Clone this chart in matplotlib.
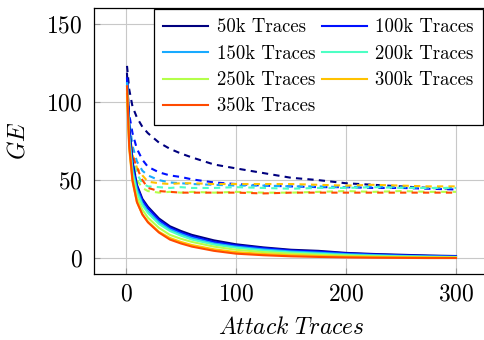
import numpy as np
import matplotlib
matplotlib.use("Agg")
import matplotlib.pyplot as plt

plt.rcParams['font.family'] = ['cmr10', 'DejaVu Serif']
plt.rcParams['mathtext.fontset'] = 'cm'
plt.rcParams['axes.formatter.use_mathtext'] = True

# attack traces axis
traces = [1, 3, 6, 10, 15, 20, 30, 40, 50, 60, 80, 100, 125, 150, 175, 200, 225, 250, 275, 300]

labels = ['50k Traces', '100k Traces', '150k Traces', '200k Traces',
          '250k Traces', '300k Traces', '350k Traces']
colors = ['#00007f', '#0010ff', '#18aaff', '#4dffc4', '#b4ff4a', '#ffc200', '#ff4a00']

# solid curves
ge_50k = [118, 85, 62, 47, 38, 33, 25.5, 20.5, 17.5, 15, 11.5, 9, 7, 5.5, 4.8, 3.5, 2.8, 2.3, 1.8, 1.5]
ge_100k = [115, 82, 60, 46, 37, 32, 24.5, 19.5, 16.5, 14, 10.5, 8.3, 6.5, 5, 4.3, 3.2, 2.5, 2, 1.6, 1.3]
ge_150k = [112, 78, 57, 44, 35, 30, 23, 18.5, 15.5, 13, 9.5, 7.5, 5.7, 4.4, 3.6, 2.7, 2.1, 1.6, 1.2, 1.0]
ge_200k = [110, 76, 55, 42, 34, 29, 22, 17.5, 14.5, 12, 8.8, 6.8, 5, 3.8, 3, 2.2, 1.7, 1.3, 1, 0.8]
ge_250k = [108, 73, 52, 39, 31, 26, 19.5, 15, 12.5, 10.5, 7.5, 5.5, 4, 3, 2.3, 1.7, 1.3, 1.0, 0.8, 0.6]
ge_300k = [105, 70, 49, 36, 28, 23.5, 17, 13, 10.5, 8.5, 5.8, 4, 2.8, 2, 1.5, 1.1, 0.9, 0.7, 0.5, 0.4]
ge_350k = [110, 72, 50, 36, 28, 23, 16.5, 12, 9.5, 7.5, 4.8, 3, 2, 1.3, 0.9, 0.6, 0.4, 0.3, 0.2, 0.2]

# dashed curves
base_50k = [123, 108, 97, 90, 84, 80, 74, 70, 67, 64.5, 60, 57.5, 54.5, 51.5, 50, 48, 47, 46, 45, 44.5]
base_100k = [112, 92, 80, 70, 63, 58.5, 55, 53, 52, 50.5, 48.5, 47.5, 46.5, 46, 45.5, 45.5, 45, 45, 44.5, 44]
base_150k = [115, 88, 72, 62, 56, 53, 50, 48.5, 48, 47.5, 47, 46.5, 46.5, 46, 46, 45.5, 46, 45.5, 45, 45]
base_200k = [110, 80, 64, 54, 48, 46, 45.5, 45, 45.5, 45, 45, 45.5, 45, 44.5, 45, 45, 45.5, 45, 45, 45]
base_250k = [108, 76, 60, 50, 45, 43, 42, 42.5, 42, 42.5, 42, 42.5, 42, 42, 42.5, 43, 42.5, 43, 42.5, 42.5]
base_300k = [110, 82, 66, 58, 53, 49, 48, 47.5, 48, 48, 47.5, 47.5, 47.5, 47.5, 47, 46.5, 47, 46.5, 46, 46]
base_350k = [108, 80, 66, 58, 50, 45, 43, 42.5, 42, 42, 42, 42, 41.5, 42, 42, 42, 42, 42, 42, 42]

solid = [ge_50k, ge_100k, ge_150k, ge_200k, ge_250k, ge_300k, ge_350k]
dashed = [base_50k, base_100k, base_150k, base_200k, base_250k, base_300k, base_350k]

fig = plt.figure(figsize=(4.85, 3.4), dpi=100)
ax = fig.add_axes([94/485, 66/340, 395/485, 266/340])

for i in range(len(labels)):
    ax.plot(traces, dashed[i], color=colors[i], lw=1.5, dashes=(3, 2.5))
handles = []
for i in range(len(labels)):
    h, = ax.plot(traces, solid[i], color=colors[i], lw=1.5, label=labels[i])
    handles.append(h)

ax.set_xlim(-29, 330)
ax.set_ylim(-10, 160)
ax.set_xticks([0, 100, 200, 300])
ax.set_yticks([0, 50, 100, 150])
ax.grid(True, color='#c8c8c8', lw=0.8)
ax.set_axisbelow(True)
ax.tick_params(direction='in', length=4, color='#999999', labelsize=17)
ax.tick_params(axis='x', pad=7)
ax.tick_params(axis='y', pad=8)
for s in ax.spines.values():
    s.set_linewidth(0.9)

ax.set_xlabel(r'$Attack\ Traces$', fontsize=17, labelpad=8)
ax.set_ylabel(r'$GE$', fontsize=17, labelpad=12)

# row-major legend order like pgfplots
order = [0, 2, 4, 6, 1, 3, 5]
leg = ax.legend([handles[k] for k in order], [labels[k] for k in order],
                ncol=2, loc='upper left', bbox_to_anchor=(0.152, 0.996), borderaxespad=0,
                fontsize=13.5, handlelength=2.4, handletextpad=0.45, columnspacing=0.35,
                labelspacing=0.45, borderpad=0.5, fancybox=False, framealpha=1,
                edgecolor='black')
leg.get_frame().set_linewidth(0.9)

fig.savefig('out.png', dpi=100)
